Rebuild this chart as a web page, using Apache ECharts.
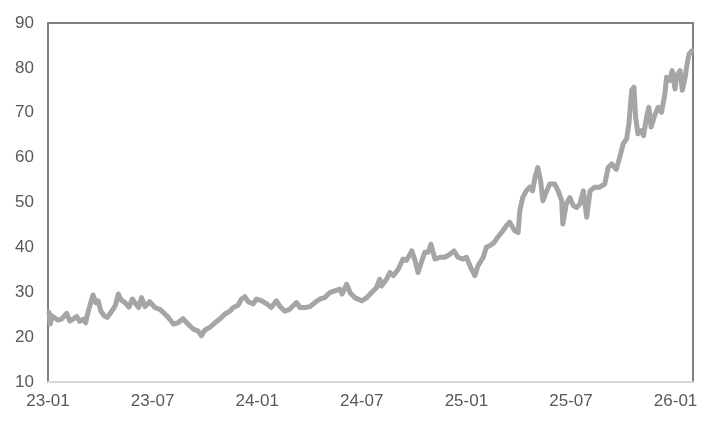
<!DOCTYPE html>
<html>
<head>
<meta charset="utf-8">
<script src="https://cdn.jsdelivr.net/npm/echarts@6/dist/echarts.min.js"></script>
<style>
html,body{margin:0;padding:0;background:#fff;}
#chart{width:716px;height:427px;}
</style>
</head>
<body>
<div id="chart"></div>
<script>
const dates = [
'2023-01-03','2023-01-05','2023-01-08','2023-01-19','2023-01-25','2023-02-03','2023-02-08','2023-02-13','2023-02-19','2023-02-24',
'2023-03-02','2023-03-06','2023-03-10','2023-03-15','2023-03-19','2023-03-24','2023-03-28','2023-04-02','2023-04-08','2023-04-13',
'2023-04-17','2023-04-23','2023-04-27','2023-05-02','2023-05-07','2023-05-14','2023-05-21','2023-05-27','2023-06-02','2023-06-07',
'2023-06-12','2023-06-18','2023-06-26','2023-07-05','2023-07-14','2023-07-20','2023-07-29','2023-08-07','2023-08-15','2023-08-24',
'2023-09-02','2023-09-11','2023-09-19','2023-09-25','2023-10-01','2023-10-10','2023-10-19','2023-10-28','2023-11-05','2023-11-14',
'2023-11-20','2023-11-28','2023-12-04','2023-12-10','2023-12-16','2023-12-25','2023-12-31','2024-01-09','2024-01-18','2024-01-26',
'2024-02-04','2024-02-10','2024-02-18','2024-02-26','2024-03-09','2024-03-15','2024-03-24','2024-04-02','2024-04-10','2024-04-19',
'2024-04-27','2024-05-06','2024-05-15','2024-05-24','2024-05-28','2024-06-05','2024-06-11','2024-06-19','2024-07-01','2024-07-10',
'2024-07-18','2024-07-27','2024-08-02','2024-08-05','2024-08-14','2024-08-20','2024-08-26','2024-09-04','2024-09-12','2024-09-18',
'2024-09-27','2024-10-02','2024-10-08','2024-10-14','2024-10-20','2024-10-26','2024-10-31','2024-11-07','2024-11-16','2024-11-24',
'2024-12-03','2024-12-10','2024-12-17','2024-12-26','2025-01-01','2025-01-10','2025-01-16','2025-01-22','2025-01-31','2025-02-05',
'2025-02-11','2025-02-17','2025-02-23','2025-03-04','2025-03-10','2025-03-16','2025-03-25','2025-03-31','2025-04-03','2025-04-08',
'2025-04-14','2025-04-20','2025-04-25','2025-04-29','2025-05-04','2025-05-09','2025-05-13','2025-05-20','2025-05-25','2025-06-03',
'2025-06-09','2025-06-15','2025-06-17','2025-06-23','2025-06-29','2025-07-05','2025-07-11','2025-07-17','2025-07-23','2025-07-29',
'2025-08-04','2025-08-12','2025-08-21','2025-08-30','2025-09-05','2025-09-11','2025-09-19','2025-09-25','2025-10-01','2025-10-07',
'2025-10-11','2025-10-16','2025-10-20','2025-10-23','2025-10-27','2025-11-02','2025-11-06','2025-11-11','2025-11-15','2025-11-19',
'2025-11-25','2025-12-01','2025-12-07','2025-12-13','2025-12-16','2025-12-22','2025-12-26','2025-12-31','2026-01-03','2026-01-09',
'2026-01-13','2026-01-18','2026-01-21','2026-01-25','2026-01-30'
];
const values = [
25.5,22.9,24.7,23.8,24.0,25.3,23.6,24.0,24.6,23.5,
24.0,23.2,25.5,27.7,29.4,27.7,28.1,25.8,24.7,24.4,
25.1,26.2,27.1,29.6,28.3,27.7,26.7,28.5,27.4,26.6,
28.8,26.8,27.9,26.6,26.2,25.5,24.4,22.9,23.2,24.1,
22.9,21.8,21.4,20.3,21.6,22.2,23.2,24.1,25.1,25.8,
26.6,27.1,28.5,29.0,27.9,27.4,28.5,28.1,27.4,26.6,
28.1,26.8,25.8,26.2,27.7,26.6,26.6,26.8,27.7,28.5,
28.8,29.9,30.3,30.7,29.6,31.8,29.9,28.8,28.1,28.8,
29.9,31.0,32.9,31.4,32.9,34.4,33.7,35.2,37.4,37.1,
39.2,37.4,34.4,36.7,38.9,38.9,40.7,37.4,37.8,37.8,
38.5,39.2,37.8,37.4,37.8,35.2,33.7,36.0,37.8,40.0,
40.4,41.0,42.2,43.7,44.8,45.6,43.7,43.3,48.2,51.1,
52.6,53.4,52.6,55.6,57.8,54.9,50.4,52.6,54.1,54.1,
52.6,50.4,45.2,49.7,51.1,49.3,48.9,49.7,52.6,46.7,
52.6,53.4,53.4,54.1,57.8,58.6,57.4,60.1,63.1,64.2,
67.5,75.0,75.7,69.0,65.3,66.0,64.9,69.0,71.2,66.8,
69.4,71.2,70.1,74.2,77.9,77.2,79.4,75.3,78.3,79.4,
75.0,77.9,80.5,83.1,83.8
];
const xTickLabels = ['23-01','23-07','24-01','24-07','25-01','25-07','26-01'];
const yTicks = [10,20,30,40,50,60,70,80,90];

function monthIndex(s){
  const p = s.split('-').map(Number);
  const dim = new Date(p[0], p[1], 0).getDate();
  return (p[0]-2023)*12 + (p[1]-1) + (p[2]-1)/dim;
}
const seriesData = dates.map((d,i)=>[monthIndex(d), values[i]]);

const chart = echarts.init(document.getElementById('chart'), null, {renderer:'canvas'});
chart.setOption({
  animation:false,
  backgroundColor:'#ffffff',
  grid:{left:48, top:23, right:23, bottom:45, show:true, borderColor:'#808080', borderWidth:2, containLabel:false},
  xAxis:{
    type:'value', min:0, max:37, interval:6,
    axisLine:{show:true, onZero:false, lineStyle:{color:'#d9d9d9', width:2}},
    axisTick:{show:false},
    splitLine:{show:false},
    axisLabel:{
      color:'#595959', fontSize:17, fontFamily:'Liberation Sans, Arial, sans-serif', margin:11,
      showMaxLabel:false,
      formatter:function(v){ const k = v/6; return (Number.isInteger(k) && k < xTickLabels.length) ? xTickLabels[k] : ''; }
    }
  },
  yAxis:{
    type:'value', min:yTicks[0], max:yTicks[yTicks.length-1], interval:10,
    axisLine:{show:false},
    axisTick:{show:false},
    splitLine:{show:false},
    axisLabel:{color:'#595959', fontSize:17, fontFamily:'Liberation Sans, Arial, sans-serif', margin:14}
  },
  series:[{
    type:'line',
    data:seriesData,
    showSymbol:false,
    symbol:'none',
    smooth:false,
    lineStyle:{color:'#a5a5a5', width:5, join:'round', cap:'round'}
  }]
});
</script>
</body>
</html>
